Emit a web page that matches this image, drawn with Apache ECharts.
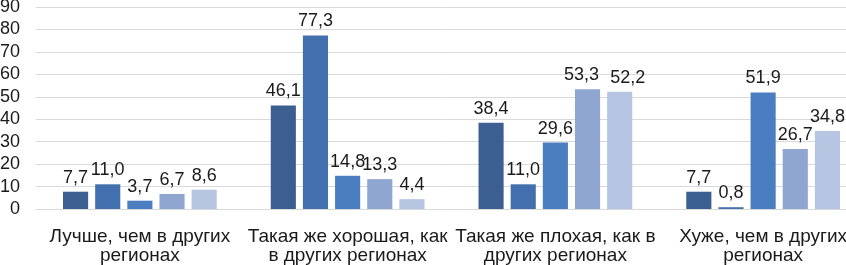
<!DOCTYPE html>
<html><head><meta charset="utf-8">
<script src="https://cdn.jsdelivr.net/npm/echarts@6/dist/echarts.min.js"></script>
<style>html,body{margin:0;padding:0;background:#fff}#c{width:846px;height:265px}</style>
</head><body><div id="c"></div>
<script>
const categories = ["Лучше, чем в других\nрегионах", "Такая же хорошая, как\nв других регионах", "Такая же плохая, как в\nдругих регионах", "Хуже, чем в других\nрегионах"];
const s1 = [7.7, 46.1, 38.4, 7.7];
const s2 = [11.0, 77.3, 11.0, 0.8];
const s3 = [3.7, 14.8, 29.6, 51.9];
const s4 = [6.7, 13.3, 53.3, 26.7];
const s5 = [8.6, 4.4, 52.2, 34.8];
const colors = ["#3c5f92", "#4270ae", "#4b7ec0", "#8fa6d0", "#b6c5e2"];
const yTicks = {min: 0, max: 90, interval: 10};

const font = "Liberation Sans, Arial, sans-serif";
// small horizontal label nudges (series index -> category index -> dx) as in the original
const nudge = {3: {2: -6}, 4: {2: 8}};
const chart = echarts.init(document.getElementById('c'), null, {renderer: 'canvas'});
const mk = (d, i) => ({
  type: 'bar',
  data: d.map((v, j) => (nudge[i] && nudge[i][j] !== undefined) ? {value: v, label: {offset: [nudge[i][j], 0]}} : v),
  barGap: '28%', barCategoryGap: '26%',
  itemStyle: {color: colors[i]},
  label: {show: true, position: 'top', distance: 5, color: '#1a1a1a', fontSize: 18, fontFamily: font,
    formatter: p => p.value.toFixed(1).replace('.', ',')},
  animation: false
});
chart.setOption({
  animation: false,
  grid: {left: 36, width: 831, top: 7, bottom: 56, containLabel: false, outerBoundsMode: 'none'},
  xAxis: {type: 'category', data: categories,
    axisLine: {show: true, lineStyle: {color: '#d9d9d9'}}, axisTick: {show: false},
    axisLabel: {color: '#1a1a1a', fontSize: 19, fontFamily: font, lineHeight: 19, margin: 18, interval: 0}},
  yAxis: {type: 'value', min: yTicks.min, max: yTicks.max, interval: yTicks.interval,
    axisLine: {show: false}, axisTick: {show: false},
    splitLine: {lineStyle: {color: '#d9d9d9', width: 1}},
    axisLabel: {color: '#1a1a1a', fontSize: 18, fontFamily: font, margin: 16}},
  series: [s1, s2, s3, s4, s5].map(mk)
});
</script></body></html>
